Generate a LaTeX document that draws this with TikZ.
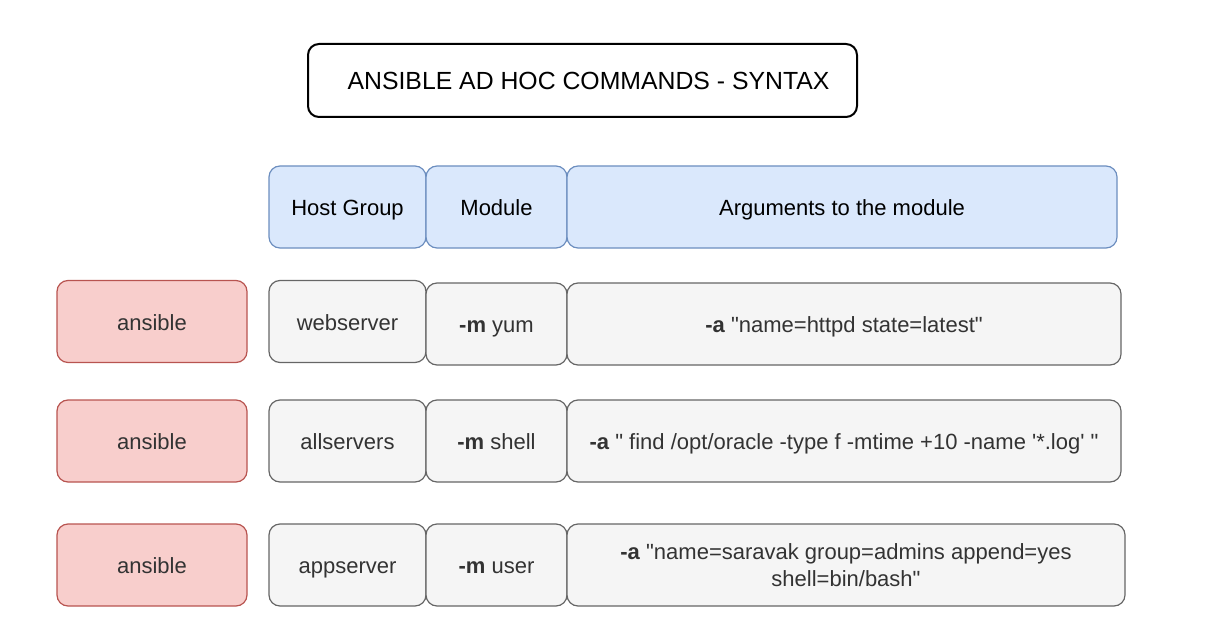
\documentclass[tikz,border=0pt]{standalone}
\usepackage{fontspec}
\setmainfont{Liberation Sans}[Ligatures=TeXOff]
\definecolor{hdrfill}{HTML}{DAE8FC}
\definecolor{hdrline}{HTML}{6C8EBF}
\definecolor{redfill}{HTML}{F8CECC}
\definecolor{redline}{HTML}{B85450}
\definecolor{grayfill}{HTML}{F5F5F5}
\definecolor{grayline}{HTML}{666666}
\definecolor{txt}{HTML}{333333}
\tikzset{
  shapebox/.style={rounded corners=11pt, line width=1.2pt, inner sep=0pt, align=center,
    font=\fontsize{22}{26.5}\selectfont, text=txt},
  basebox/.style={shapebox, text height=17pt, text depth=0pt},
  titlebox/.style={basebox, draw=black, line width=2pt, fill=white, text=black,
    font=\fontsize{24.8}{29}\selectfont, text height=18pt},
  hdrbox/.style={basebox, draw=hdrline, fill=hdrfill, text=black},
  redbox/.style={basebox, draw=redline, fill=redfill},
  graybox/.style={basebox, draw=grayline, fill=grayfill},
  twolinebox/.style={shapebox, draw=grayline, fill=grayfill},
}
\begin{document}
\begin{tikzpicture}[x=1pt,y=-1pt]
\useasboundingbox (0,0) rectangle (1214,639);
% title
\node[titlebox, minimum width=549pt, minimum height=73pt] (title) at (582.5,80.5) {\hspace{12pt}ANSIBLE AD HOC COMMANDS - SYNTAX};
% header
\node[hdrbox, minimum width=157pt, minimum height=82pt] (hhost) at (347.5,207) {Host Group};
\node[hdrbox, minimum width=141pt, minimum height=82pt] (hmod) at (496.5,207) {Module};
\node[hdrbox, minimum width=550pt, minimum height=82pt] (harg) at (842,207) {Arguments to the module};
% row 1
\node[redbox, minimum width=190pt, minimum height=82pt] (a1) at (152,321.5) {ansible};
\node[graybox, minimum width=157pt, minimum height=82pt] (h1) at (347.5,321.5) {webserver};
\node[graybox, minimum width=141pt, minimum height=82pt] (m1) at (496.5,324) {\textbf{-m} yum};
\node[graybox, minimum width=554pt, minimum height=82pt] (g1) at (844,324) {\textbf{-a} "name=httpd state=latest"};
% row 2
\node[redbox, minimum width=190pt, minimum height=82pt] (a2) at (152,441) {ansible};
\node[graybox, minimum width=157pt, minimum height=82pt] (h2) at (347.5,441) {allservers};
\node[graybox, minimum width=141pt, minimum height=82pt] (m2) at (496.5,441) {\textbf{-m} shell};
\node[graybox, minimum width=554pt, minimum height=82pt] (g2) at (844,441) {\textbf{-a} " find /opt/oracle -type f -mtime +10 -name '*.log' "};
% row 3
\node[redbox, minimum width=190pt, minimum height=82pt] (a3) at (152,565) {ansible};
\node[graybox, minimum width=157pt, minimum height=82pt] (h3) at (347.5,565) {appserver};
\node[graybox, minimum width=141pt, minimum height=82pt] (m3) at (496.5,565) {\textbf{-m} user};
\node[twolinebox, minimum width=558pt, minimum height=82pt] (g3) at (846,565) {\textbf{-a} "name=saravak group=admins append=yes\\shell=bin/bash"};
\end{tikzpicture}
\end{document}
